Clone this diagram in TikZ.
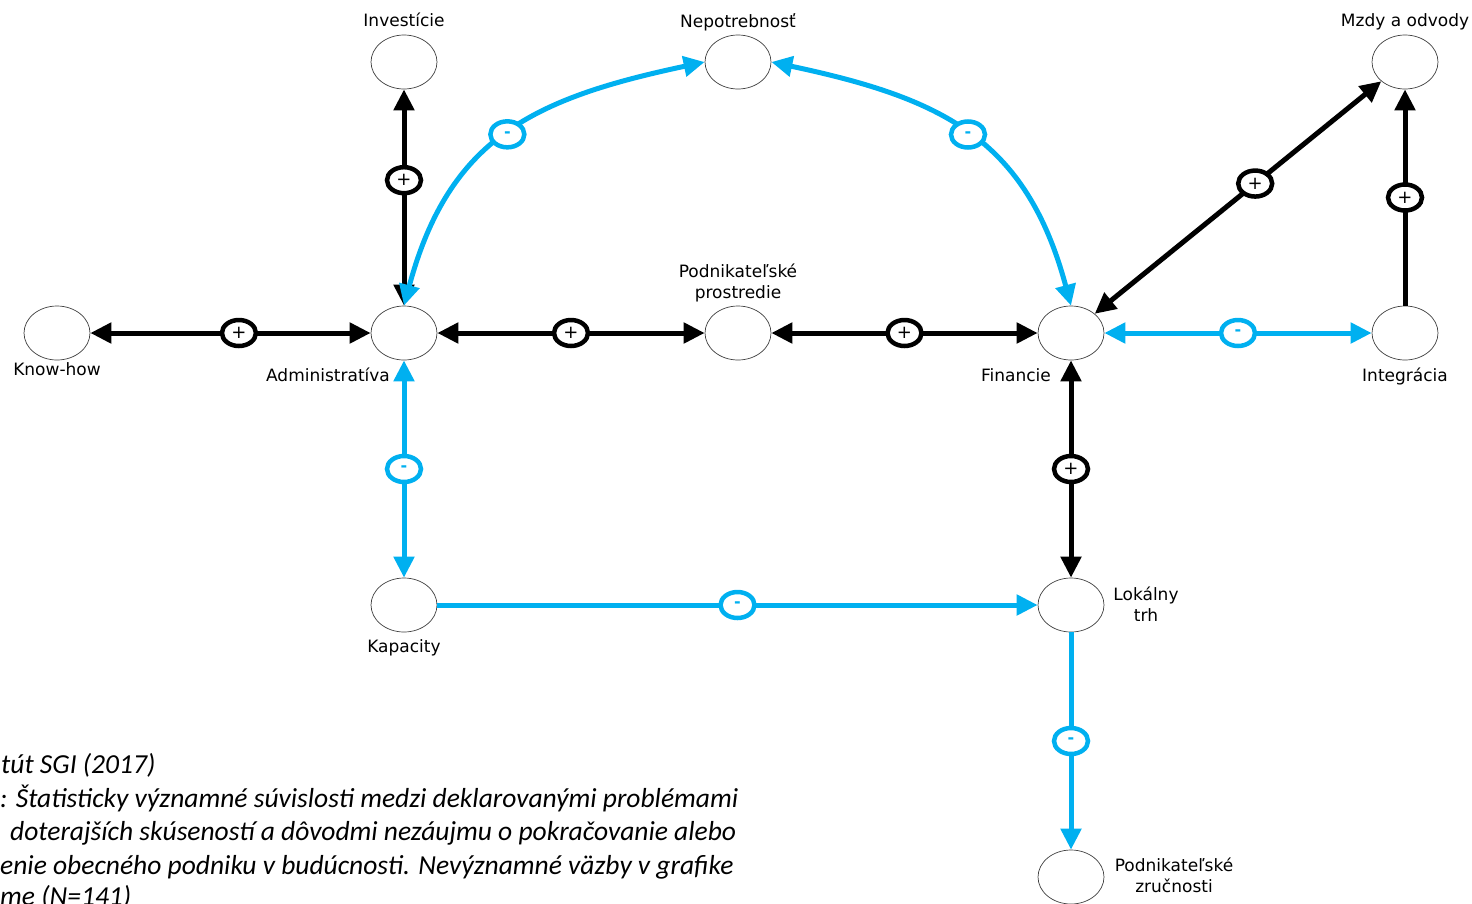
\documentclass[tikz,border=0pt]{standalone}
\usepackage{fontspec}
\setmainfont{DejaVu Sans}
\newfontfamily\capfont{Carlito}
\usetikzlibrary{shapes.geometric,arrows.meta}
\definecolor{vblue}{RGB}{0,176,240}
\tikzset{bigtip/.tip={Triangle[length=21pt,width=20pt]}}
\tikzset{factor/.style={ellipse, draw=black!75, line width=0.7pt, fill=white, minimum width=66pt, minimum height=54pt, inner sep=0pt},
         lbl/.style={font=\fontsize{17}{21}\selectfont, align=center, inner sep=0pt, anchor=base},
         pline/.style={draw=black, line width=5pt},
         nline/.style={draw=vblue, line width=5pt},
         psign/.style={ellipse, draw=black, line width=4.5pt, fill=white, minimum width=34pt, minimum height=26pt, inner sep=0pt, font=\fontsize{18}{18}\selectfont},
         msign/.style={psign, draw=vblue, text=vblue, font=\fontsize{16}{16}\selectfont\bfseries},
         captext/.style={font=\capfont\itshape\fontsize{27.5}{27.5}\selectfont, anchor=base west, inner sep=0pt}}

\begin{document}
\begin{tikzpicture}[x=1pt,y=-1pt]
   \useasboundingbox (0,0) rectangle (1472,903);
   \node[factor] (inv)  at (404,62)   {};
   \node[factor] (nep)  at (738,62)   {};
   \node[factor] (mzd)  at (1405,62)  {};
   \node[factor] (know) at (57,333)   {};
   \node[factor] (adm)  at (404,333)  {};
   \node[factor] (pro)  at (738,333)  {};
   \node[factor] (fin)  at (1071,333) {};
   \node[factor] (int)  at (1405,333) {};
   \node[factor] (kap)  at (404,605)  {};
   \node[factor] (lok)  at (1071,605) {};
   \node[factor] (zru)  at (1071,877) {};
   \node[lbl] (inv-l)  at (404,26)   {Investície};
   \node[lbl] (nep-l)  at (738,27)   {Nepotrebnosť};
   \node[lbl] (mzd-l)  at (1405,26)  {Mzdy a odvody};
   \node[lbl] (know-l) at (57,375)   {Know-how};
   \node[lbl] (adm-l)  at (328,381)  {Administratíva};
   \node[lbl] (pro-l)  at (738,298)  {Podnikateľské\\prostredie};
   \node[lbl] (fin-l)  at (1016,381) {Financie};
   \node[lbl] (int-l)  at (1405,381) {Integrácia};
   \node[lbl] (kap-l)  at (404,652)  {Kapacity};
   \node[lbl] (lok-l)  at (1146,621) {Lokálny\\trh};
   \node[lbl] (zru-l)  at (1174,892) {Podnikateľské\\zručnosti};
   \draw[pline, bigtip-bigtip] (adm) -- (inv) node[psign, pos=0.58] (s1) {+};
   \draw[pline, bigtip-bigtip] (know) -- (adm) node[psign, pos=0.53] (s2) {+};
   \draw[pline, bigtip-bigtip] (adm) -- (pro) node[psign, midway] (s3) {+};
   \draw[pline, bigtip-bigtip] (pro) -- (fin) node[psign, midway] (s4) {+};
   \draw[pline, bigtip-bigtip] (fin) -- (mzd) node[psign, pos=0.56] (s5) {+};
   \draw[pline, -bigtip] (int) -- (mzd) node[psign, midway] (s6) {+};
   \draw[pline, bigtip-bigtip] (fin) -- (lok) node[psign, midway] (s7) {+};
   \draw[nline, bigtip-bigtip] (adm.north) to[out=75,in=-168,looseness=1.15] node[msign, pos=0.5] (s8) {-} (nep.west);
   \draw[nline, bigtip-bigtip] (fin.north) to[out=105,in=-12,looseness=1.15] node[msign, pos=0.5] (s9) {-} (nep.east);
   \draw[nline, bigtip-bigtip] (fin) -- (int) node[msign, midway] (s10) {-};
   \draw[nline, bigtip-bigtip] (adm) -- (kap) node[msign, midway] (s11) {-};
   \draw[nline, -bigtip] (kap) -- (lok) node[msign, midway] (s12) {-};
   \draw[nline, -bigtip] (lok) -- (zru) node[msign, midway] (s13) {-};
   \node[captext] (c1) at (1,773)  {tút SGI (2017)};
   \node[captext] (c2) at (0,807)  {: Štatisticky významné súvislosti medzi deklarovanými problémami};
   \node[captext] (c3) at (10,840) {doterajších skúseností a dôvodmi nezáujmu o pokračovanie alebo};
   \node[captext] (c4) at (0,874)  {enie obecného podniku v budúcnosti. Nevýznamné väzby v grafike};
   \node[captext] (c5) at (0,905)  {me (N=141)};
\end{tikzpicture}
\end{document}
